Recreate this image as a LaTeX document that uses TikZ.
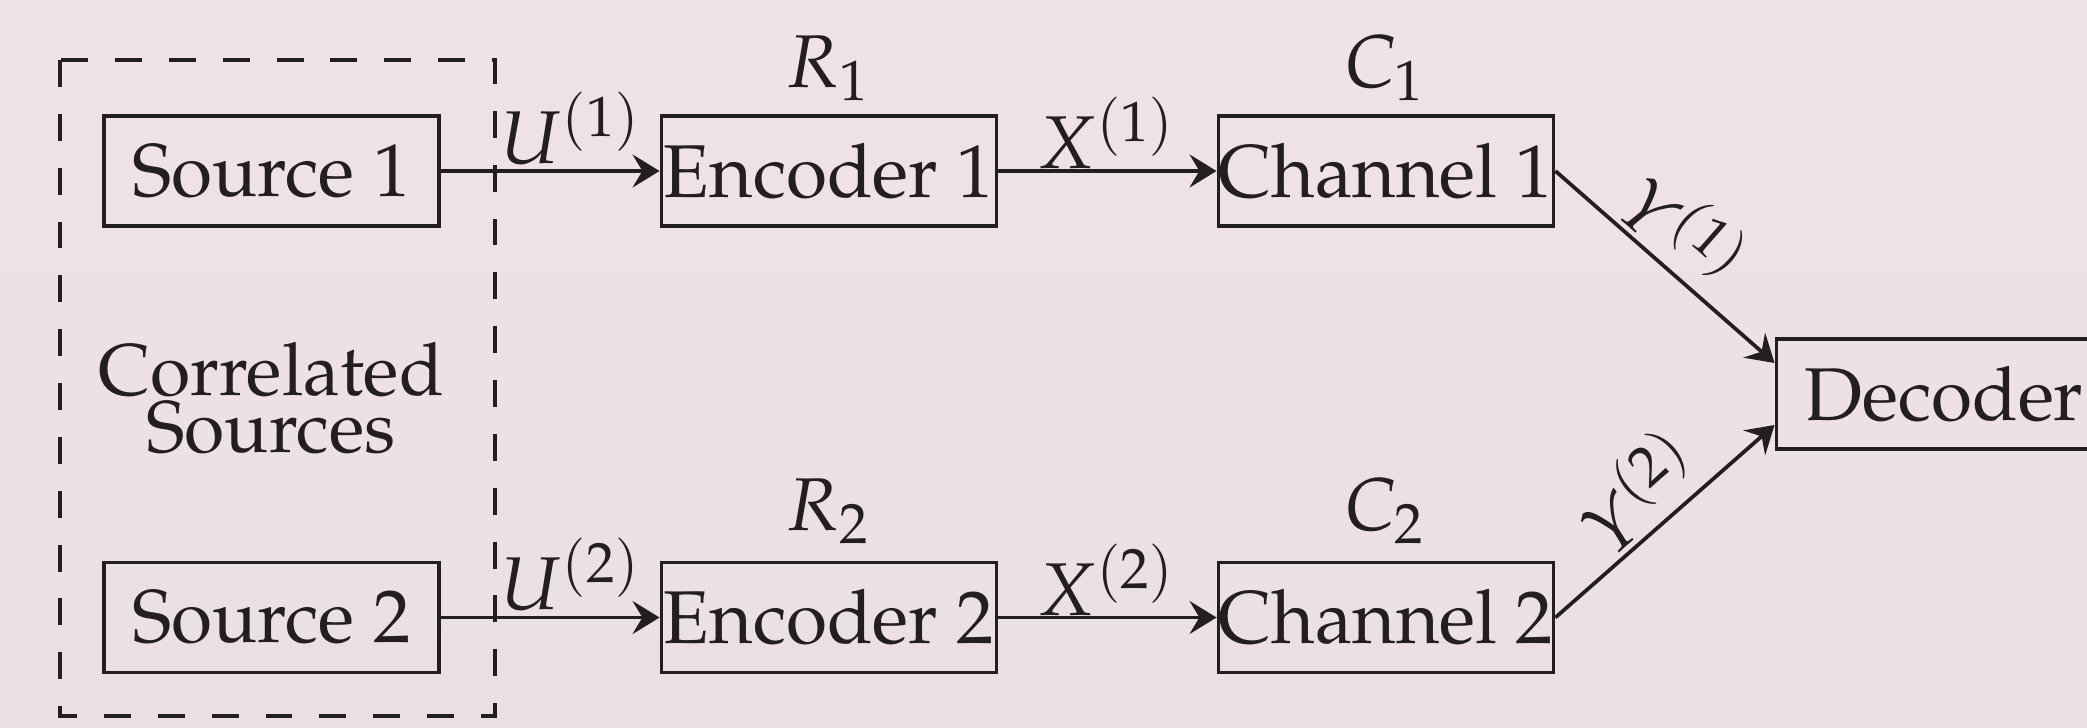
\documentclass[tikz,border=0pt]{standalone}
\usepackage[T1]{fontenc}
\usepackage{mathpazo}
\usepackage{tikz}
\usetikzlibrary{arrows.meta,calc}
\definecolor{bgtop}{HTML}{F0E3E6}
\definecolor{bgbot}{HTML}{EADFE1}
\definecolor{inkdark}{HTML}{231F20}

\begin{document}
\begin{tikzpicture}[x=0.0047cm,y=-0.0047cm,
  box/.style={draw=inkdark,line width=0.5pt,minimum width=1.575cm,minimum height=0.517cm,inner sep=0pt,text=inkdark},
  link/.style={draw=inkdark,line width=0.5pt,-{Stealth[length=3.6pt,width=4.4pt,inset=1.3pt]}},
  lbl/.style={text=inkdark,inner sep=0.6pt},
  rate/.style={text=inkdark,anchor=base,inner sep=0pt}]
\shade[top color=bgtop,bottom color=bgbot] (0,0) rectangle (2087,728);
\useasboundingbox (0,0) rectangle (2087,728);
% sources
\draw[inkdark,line width=0.5pt,dash pattern=on 3.6pt off 3.6pt] (60,60) rectangle (495,716);
\node[box] (src1) at (271.5,171) {Source 1};
\node[box] (src2) at (271.5,617.5) {Source 2};
\node[text=inkdark,align=center,font=\fontsize{9.8}{7.6}\selectfont] (corr) at (271,398) {Correlated\\Sources};
% encoders and channels
\node[box] (enc1) at (829,171) {Encoder 1};
\node[box] (enc2) at (829,617.5) {Encoder 2};
\node[box] (ch1) at (1386,171) {Channel 1};
\node[box] (ch2) at (1386,617.5) {Channel 2};
\node[box] (dec) at (1944,394) {Decoder};
\node[rate] (r1) at (829,87) {$R_1$};
\node[rate] (r2) at (829,530) {$R_2$};
\node[rate] (c1) at (1386,87) {$C_1$};
\node[rate] (c2) at (1386,530) {$C_2$};
% links
\draw[link] (src1) -- node[lbl,above,pos=0.6] {$U^{(1)}$} (enc1);
\draw[link] (src2) -- node[lbl,above,pos=0.6] {$U^{(2)}$} (enc2);
\draw[link] (enc1) -- node[lbl,above,inner sep=0pt] {$X^{(1)}$} (ch1);
\draw[link] (enc2) -- node[lbl,above,inner sep=0pt] {$X^{(2)}$} (ch2);
\draw[link] (ch1.east) -- node[lbl,above,sloped,pos=0.47] {$Y^{(1)}$} ($(dec.west)+(0,-31)$);
\draw[link] (ch2.east) -- node[lbl,above,sloped,pos=0.5] {$Y^{(2)}$} ($(dec.west)+(0,31)$);
\end{tikzpicture}
\end{document}
